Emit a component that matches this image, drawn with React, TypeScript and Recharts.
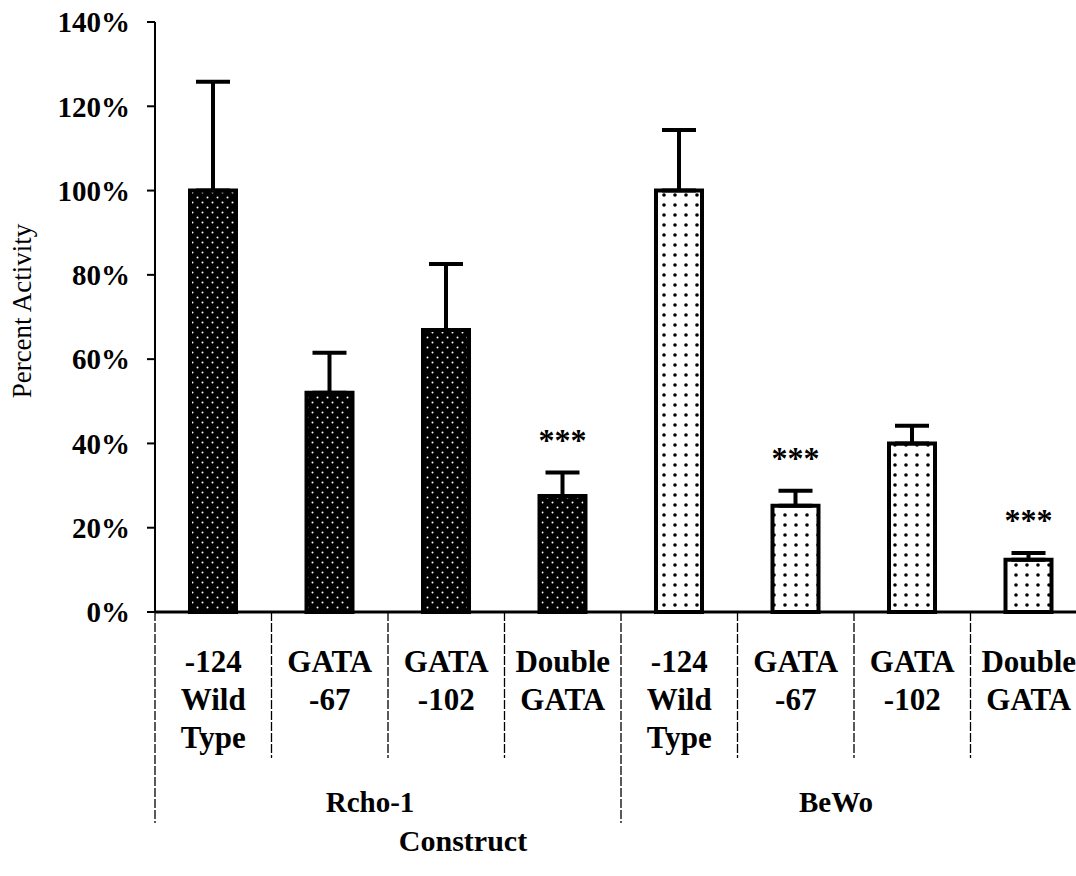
import React from 'react';
import { BarChart, Bar, XAxis, YAxis, ErrorBar, Cell, LabelList, Label } from 'recharts';

// constructs, two cell lines of four each
const constructLines = [
  ['-124', 'Wild', 'Type'],
  ['GATA', '-67'],
  ['GATA', '-102'],
  ['Double', 'GATA'],
  ['-124', 'Wild', 'Type'],
  ['GATA', '-67'],
  ['GATA', '-102'],
  ['Double', 'GATA'],
];
const cellLines = ['Rcho-1', 'Rcho-1', 'Rcho-1', 'Rcho-1', 'BeWo', 'BeWo', 'BeWo', 'BeWo'];
const activity = [100, 52, 66.9, 27.5, 100, 25.2, 40, 12.4];
const errorUp = [25.8, 9.5, 15.7, 5.6, 14.4, 3.6, 4.2, 1.6];
const stars = ['', '', '', '***', '', '***', '', '***'];
const yTicks = [0, 20, 40, 60, 80, 100, 120, 140];

const data = activity.map((v, i) => ({
  name: constructLines[i].join(' '),
  cell: cellLines[i],
  value: v,
  err: [0, errorUp[i]],
  stars: stars[i],
}));

const FONT = '"Liberation Serif", "Times New Roman", serif';
const BAND = 116.5;

function CategoryTick(props: any) {
  const { x, y, payload } = props;
  const i = payload?.index ?? props.index ?? 0;
  const left = x - BAND / 2;
  const groupStart = i % 4 === 0;
  return (
    <g>
      <line
        x1={left}
        x2={left}
        y1={y}
        y2={y + (groupStart ? 211 : 146)}
        stroke="#000"
        strokeWidth={1.3}
        strokeDasharray="9 2"
      />
      {constructLines[i].map((t, k) => (
        <text
          key={k}
          x={x}
          y={y + 60 + k * 38}
          textAnchor="middle"
          fontFamily={FONT}
          fontWeight="bold"
          fontSize={31}
          fill="#000"
        >
          {t}
        </text>
      ))}
      {i % 4 === 1 && (
        <text
          x={x + BAND / 2 - 18}
          y={y + 200}
          textAnchor="middle"
          fontFamily={FONT}
          fontWeight="bold"
          fontSize={29}
          fill="#000"
        >
          {cellLines[i]}
        </text>
      )}
    </g>
  );
}

function StarLabel(props: any) {
  const { x, y, width, height, value, index } = props;
  if (!value) return null;
  const perUnit = height / activity[index];
  const errTop = y - errorUp[index] * perUnit;
  return (
    <text
      x={x + width / 2}
      y={errTop - 22}
      textAnchor="middle"
      fontFamily={FONT}
      fontWeight="bold"
      fontSize={32}
      fill="#000"
    >
      {value}
    </text>
  );
}

function YTitle(props: any) {
  const vb = props.viewBox;
  const cy = vb.y + vb.height / 2 - 6;
  return (
    <text
      x={22}
      y={cy}
      transform={`rotate(-90, 22, ${cy})`}
      textAnchor="middle"
      dominantBaseline="central"
      fontFamily={FONT}
      fontSize={27}
      fill="#000"
    >
      Percent Activity
    </text>
  );
}

function XTitle(props: any) {
  const vb = props.viewBox;
  return (
    <text
      x={vb.x + 308}
      y={851}
      textAnchor="middle"
      fontFamily={FONT}
      fontWeight="bold"
      fontSize={30}
      fill="#000"
    >
      Construct
    </text>
  );
}

export default function App() {
  return (
    <div
      style={{
        position: 'absolute',
        left: 0,
        top: 0,
        width: 1076,
        height: 876,
        overflow: 'hidden',
        background: '#fff',
      }}
    >
      <BarChart
        width={1087}
        height={876}
        data={data}
        margin={{ top: 22, right: 0, left: 0, bottom: 0 }}
        barSize={46}
      >
        <defs>
          <pattern id="darkDots" width="10" height="10" patternUnits="userSpaceOnUse">
            <rect width="10" height="10" fill="#000" />
            <circle cx="2.5" cy="2.5" r="1" fill="#fff" />
            <circle cx="7.5" cy="7.5" r="1" fill="#fff" />
          </pattern>
          <pattern id="lightDots" width="11" height="10" patternUnits="userSpaceOnUse">
            <rect width="11" height="10" fill="#fff" />
            <circle cx="4" cy="5" r="1.8" fill="#000" />
          </pattern>
        </defs>
        <XAxis
          dataKey="name"
          height={264}
          interval={0}
          tickLine={false}
          tickSize={0}
          tickMargin={0}
          axisLine={{ stroke: '#000', strokeWidth: 3 }}
          tick={<CategoryTick />}
        >
          <Label content={XTitle} />
        </XAxis>
        <YAxis
          width={155}
          domain={[0, 140]}
          ticks={yTicks}
          interval={0}
          tickFormatter={(v: number) => `${v}%`}
          axisLine={{ stroke: '#000', strokeWidth: 2 }}
          tickLine={{ stroke: '#000', strokeWidth: 2 }}
          tickSize={8}
          tickMargin={17}
          tick={{ fontFamily: FONT, fontWeight: 'bold', fontSize: 29, fill: '#000' }}
        >
          <Label content={YTitle} />
        </YAxis>
        <Bar dataKey="value" isAnimationActive={false} stroke="#000" strokeWidth={4}>
          {data.map((d, i) => (
            <Cell key={i} fill={d.cell === 'Rcho-1' ? 'url(#darkDots)' : 'url(#lightDots)'} />
          ))}
          <ErrorBar
            dataKey="err"
            direction="y"
            width={17}
            stroke="#000"
            strokeWidth={4}
            isAnimationActive={false}
          />
          <LabelList dataKey="stars" content={StarLabel} />
        </Bar>
      </BarChart>
    </div>
  );
}
